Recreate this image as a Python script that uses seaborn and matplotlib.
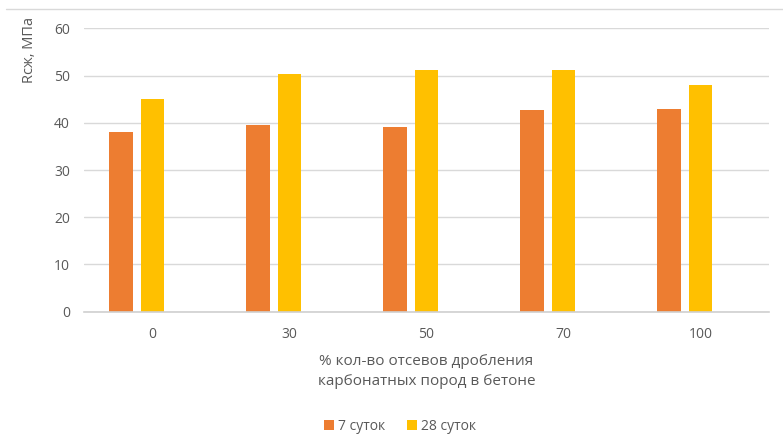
import matplotlib
matplotlib.use("Agg")
import matplotlib.pyplot as plt
import seaborn as sns
import pandas as pd
from matplotlib.lines import Line2D
from matplotlib.patches import Patch

categories = ["0", "30", "50", "70", "100"]
series_names = ["7 суток", "28 суток"]
values_7 = [38.1, 39.5, 39.0, 42.7, 42.9]
values_28 = [45.1, 50.3, 51.1, 51.1, 48.0]
colors = ["#ED7D31", "#FFC000"]
y_ticks = [0, 10, 20, 30, 40, 50, 60]

sns.set_theme(style="white")
plt.rcParams["font.family"] = ["Open Sans", "DejaVu Sans"]
text_color = "#595959"
grid_color = "#D9D9D9"

df = pd.DataFrame({
    "cat": categories * 2,
    "val": values_7 + values_28,
    "series": [series_names[0]] * len(categories) + [series_names[1]] * len(categories),
})

fig = plt.figure(figsize=(7.83, 4.47), dpi=100)
ax = fig.add_axes([84 / 783, 1 - 311.7 / 447, (769 - 84) / 783, (311.7 - 28.3) / 447])

hue_order = series_names + ["(пусто)"]
palette = {series_names[0]: colors[0], series_names[1]: colors[1], "(пусто)": "#FFFFFF"}
sns.barplot(data=df, x="cat", y="val", hue="series", hue_order=hue_order,
            order=categories, palette=palette, width=0.679, gap=0.226,
            saturation=1, legend=False, ax=ax, edgecolor="none", linewidth=0)

ax.set_xlim(-0.5, len(categories) - 0.5)
ax.set_ylim(0, 60)
ax.set_yticks(y_ticks)
ax.yaxis.grid(True, color=grid_color, linewidth=1.0)
ax.set_axisbelow(True)
for s in ["top", "right", "left"]:
    ax.spines[s].set_visible(False)
ax.spines["bottom"].set_color("#D0D0D0")
ax.spines["bottom"].set_linewidth(1.2)
ax.tick_params(axis="both", length=0, labelsize=10, colors=text_color)
ax.tick_params(axis="y", pad=10)
ax.tick_params(axis="x", pad=11)
ax.set_xlabel("% кол-во отсевов дробления\nкарбонатных пород в бетоне",
              fontsize=11, color=text_color, labelpad=9, linespacing=1.45)
ax.set_ylabel("")

fig.text(30 / 783, 1 - 50 / 447, "Rcж, МПа", rotation=90, ha="center", va="center",
         fontsize=10.5, color=text_color)

handles = [Patch(facecolor=c, edgecolor="none") for c in colors]
fig.legend(handles, series_names, loc="center", bbox_to_anchor=(400 / 783, 1 - 426 / 447),
           ncol=2, frameon=False, fontsize=10, handlelength=0.7, handleheight=0.7,
           handletextpad=0.3, columnspacing=1.6, labelcolor=text_color)

fig.add_artist(Line2D([6 / 783, 1.0], [1 - 9.3 / 447] * 2, color=grid_color, linewidth=1.0))

fig.savefig("out.png", dpi=100, facecolor="white")
